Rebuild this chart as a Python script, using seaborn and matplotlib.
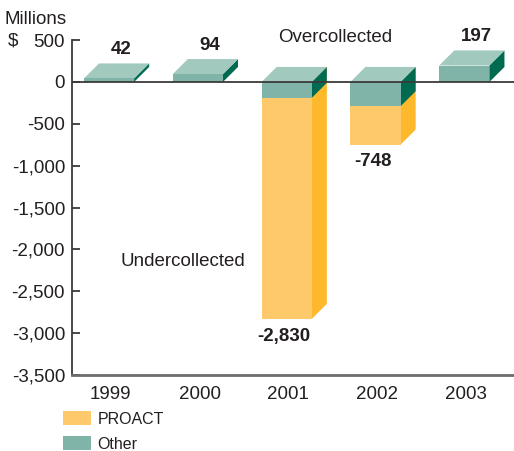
import matplotlib
matplotlib.use("Agg")
import matplotlib.pyplot as plt
import seaborn as sns
import pandas as pd
from matplotlib.patches import Polygon, Patch

# data ($ millions)
years = ["1999", "2000", "2001", "2002", "2003"]
other = [42, 94, -190, -290, 197]
proact = [0, 0, -2640, -458, 0]
totals = [42, 94, -2830, -748, 197]
labels = ["42", "94", "-2,830", "-748", "197"]

# colours
teal_front = "#80b4a9"
teal_top = "#a2c9be"
teal_side = "#006b50"
orange_front = "#fec96b"
orange_side = "#fdb82b"
ink = "#231f20"

df = pd.DataFrame({"year": years, "other": other, "total": totals})

sns.set_style("white")
plt.rcParams["font.family"] = ["Liberation Sans", "DejaVu Sans"]

fig = plt.figure(figsize=(5.14, 4.51), dpi=100)
ax = fig.add_axes([0.14, 0.1685, 0.86, 0.7425])

# front faces: orange totals underneath, teal "other" on top
sns.barplot(data=df, x="year", y="total", order=years, color=orange_front,
            saturation=1, width=0.565, linewidth=0, ax=ax, zorder=2)
sns.barplot(data=df, x="year", y="other", order=years, color=teal_front,
            saturation=1, width=0.565, linewidth=0, ax=ax, zorder=3)

bars = ax.patches[:]
orange_bars = bars[:5]
teal_bars = bars[5:]

# fake 3D depth (data units)
dx = 0.17
dy = 180


def side(bar, color, z):
    x1 = bar.get_x() + bar.get_width()
    y0 = bar.get_y()
    y1 = y0 + bar.get_height()
    top, bot = max(y0, y1), min(y0, y1)
    ax.add_patch(Polygon([(x1, top), (x1 + dx, top + dy), (x1 + dx, bot + dy), (x1, bot)],
                         closed=True, facecolor=color, edgecolor="none", zorder=z))


for ob in orange_bars:
    if ob.get_height() < 0:
        side(ob, orange_side, 1.5)

for tb in teal_bars:
    side(tb, teal_side, 2.5)
    x0 = tb.get_x()
    x1 = x0 + tb.get_width()
    top = max(tb.get_y(), tb.get_y() + tb.get_height())
    ax.add_patch(Polygon([(x0, top), (x0 + dx, top + dy), (x1 + dx, top + dy), (x1, top)],
                         closed=True, facecolor=teal_top, edgecolor="none", zorder=2.5))

ax.axhline(0, color="#3a3a3a", lw=1.3, zorder=4)

# value labels
for i, (t, lab) in enumerate(zip(totals, labels)):
    if t > 0:
        ax.text(i + 0.135, t + dy + 60, lab, ha="center", va="bottom",
                fontsize=13.5, fontweight="bold", color=ink)
    else:
        ax.text(i - 0.03, t - 105, lab, ha="center", va="top",
                fontsize=13.5, fontweight="bold", color=ink)

ax.text(2.55, 526, "Overcollected", ha="center", va="center", fontsize=13.5, color=ink)
ax.text(0.83, -2145, "Undercollected", ha="center", va="center", fontsize=13.5, color=ink)

ax.set_ylim(-3500, 500)
ax.set_xlim(-0.417, 4.56)
ax.set_yticks(range(-3500, 501, 500))
ax.set_yticklabels([f"{v:,}" for v in range(-3500, 501, 500)])
ax.set_xticks([i + 0.02 for i in range(5)])
ax.set_xticklabels(years)
ax.set_xlabel("")
ax.set_ylabel("")
ax.tick_params(axis="y", which="major", direction="in", length=6, width=1.3,
               color="#3a3a3a", labelsize=13.5, labelcolor=ink, pad=5, left=True)
ax.tick_params(axis="x", length=0, labelsize=13.5, labelcolor=ink, pad=8)

for s in ["top", "right"]:
    ax.spines[s].set_visible(False)
ax.spines["left"].set_color("#3a3a3a")
ax.spines["left"].set_linewidth(1.3)
ax.spines["bottom"].set_color("#6d6d6d")
ax.spines["bottom"].set_linewidth(2)

fig.text(0.0097, 0.957, "Millions", fontsize=13.5, color=ink, va="center")
fig.text(0.015, 0.909, "$", fontsize=13.5, color=ink, va="center")

handles = [Patch(facecolor=orange_front, edgecolor="none", label="PROACT"),
           Patch(facecolor=teal_front, edgecolor="none", label="Other")]
fig.legend(handles=handles, loc="upper left", bbox_to_anchor=(0.1226, 0.088),
           frameon=False, fontsize=11.5, handlelength=1.75, handleheight=0.95,
           handletextpad=0.4, labelspacing=0.6, borderpad=0, borderaxespad=0,
           labelcolor=ink)

fig.savefig("out.png", dpi=100)
